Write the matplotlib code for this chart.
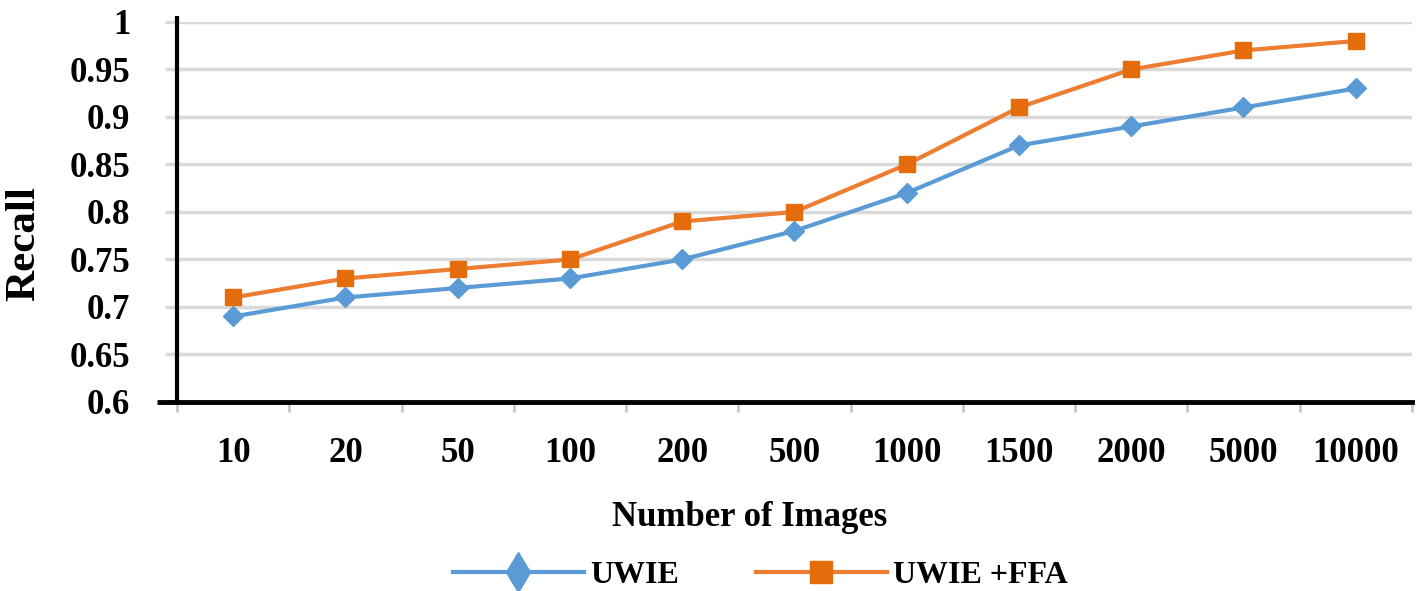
import matplotlib
matplotlib.use("Agg")
import matplotlib.pyplot as plt
from matplotlib.lines import Line2D

categories = ["10", "20", "50", "100", "200", "500", "1000", "1500", "2000", "5000", "10000"]
uwie = [0.69, 0.71, 0.72, 0.73, 0.75, 0.78, 0.82, 0.87, 0.89, 0.91, 0.93]
uwie_ffa = [0.71, 0.73, 0.74, 0.75, 0.79, 0.80, 0.85, 0.91, 0.95, 0.97, 0.98]
yticks = [0.6, 0.65, 0.7, 0.75, 0.8, 0.85, 0.9, 0.95, 1.0]
ytick_labels = ["0.6", "0.65", "0.7", "0.75", "0.8", "0.85", "0.9", "0.95", "1"]

plt.rcParams['font.family'] = ['Liberation Serif', 'DejaVu Serif']
plt.rcParams['font.weight'] = 'bold'

fig = plt.figure(figsize=(14.16, 5.91), dpi=100)
ax = fig.add_axes([0.125, 0.3198, 0.872, 0.643])

x = list(range(len(categories)))
blue = "#5b9bd5"
orange = "#ed7d31"
ax.plot(x, uwie, color=blue, lw=3, marker="D", ms=10, mfc=blue, mec=blue, zorder=3, label="UWIE")
ax.plot(x, uwie_ffa, color=orange, lw=3, marker="s", ms=12, mfc="#e46c0a", mec="#e46c0a", zorder=3, label="UWIE +FFA")

ax.set_xlim(-0.5, len(categories) - 0.5)
ax.set_ylim(0.6, 1.0)
ax.set_yticks(yticks)
ax.set_yticklabels(ytick_labels, fontsize=25, fontweight='bold')
ax.set_xticks(x)
ax.set_xticklabels(categories, fontsize=25, fontweight='bold')
ax.set_xticks([i - 0.5 for i in range(len(categories) + 1)], minor=True)
ax.tick_params(axis='x', which='major', length=0, pad=25)
ax.tick_params(axis='x', which='minor', length=7, width=2, color="#c8c8c8", direction='out')
ax.tick_params(axis='y', which='major', length=8.6, width=2.5, color="#d9d9d9", pad=25)

ax.grid(axis='y', color="#d9d9d9", lw=2.5, zorder=0)
ax.set_axisbelow(True)
for s in ['top', 'right']:
    ax.spines[s].set_visible(False)
ax.spines['left'].set_linewidth(3)
ax.spines['bottom'].set_linewidth(3.5)
ax.spines['left'].set_zorder(4)
ax.spines['bottom'].set_zorder(4)
ax.plot([-0.016, 0], [0, 0], transform=ax.transAxes, color='black', lw=3.5, clip_on=False, solid_capstyle='butt')
ax.plot([0, 0], [1, 1.016], transform=ax.transAxes, color='black', lw=3, clip_on=False, solid_capstyle='butt')

ax.set_ylabel("Recall", fontsize=31, fontweight='bold')
ax.yaxis.set_label_coords(-0.108, 0.418)
ax.set_xlabel("Number of Images", fontsize=25, fontweight='bold')
ax.xaxis.set_label_coords(0.464, -0.26)

handles = [Line2D([0], [0], color=blue, lw=3, marker="d", ms=20, mfc=blue, mec=blue),
           Line2D([0], [0], color=orange, lw=3, marker="s", ms=16, mfc="#e46c0a", mec="#e46c0a")]
fig.legend(handles, ["UWIE", "UWIE +FFA"], loc='center', bbox_to_anchor=(0.537, 0.027),
           ncol=2, frameon=False, prop={'size': 23, 'weight': 'bold'},
           handlelength=4.1, columnspacing=2.4, handletextpad=0.2)

fig.savefig("out.png", dpi=100)
